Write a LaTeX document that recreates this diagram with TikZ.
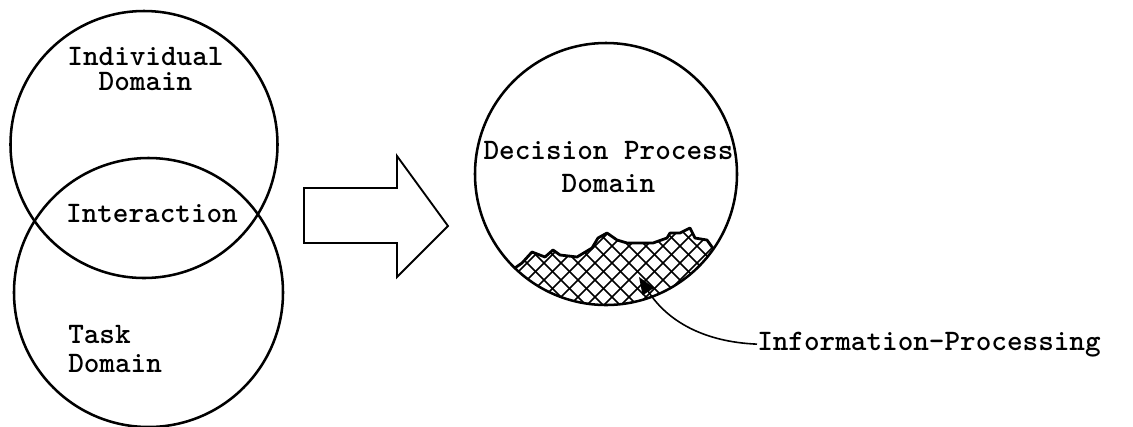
\documentclass[tikz,border=0pt]{standalone}
\usepackage{fontspec}
\usetikzlibrary{arrows.meta}
\tikzset{
  dombox/.style={circle, draw, line width=1.9pt, inner sep=0pt},
  lbl/.style={font=\ttfamily\bfseries\fontsize{22.3}{20}\selectfont, inner sep=0pt},
  blockarrow/.style={draw, line width=1.4pt, line join=miter},
  hatchline/.style={line width=1.3pt},
  jagged/.style={line width=2.1pt, line join=round},
  leader/.style={line width=1.2pt, arrows={Triangle[length=13pt,width=10pt]-}}
}
\begin{document}
\begin{tikzpicture}[x=0.75pt,y=-0.75pt]
\useasboundingbox (0,0) rectangle (1133,426);
% left Venn circles
\node[dombox, minimum size=200.25pt] (ind) at (144,144.5) {};
\node[dombox, minimum size=201.75pt] (task) at (148.5,292.5) {};
\node[lbl, align=center, font=\ttfamily\bfseries\fontsize{22.3}{18.75}\selectfont] (indt) at (145.5,69) {Individual\\Domain};
\node[lbl, anchor=base] (inter) at (152,222) {Interaction};
\node[lbl, align=left, anchor=north west, font=\ttfamily\bfseries\fontsize{22.3}{21.75}\selectfont] (taskt) at (68,325) {Task\\Domain};
% block arrow
\draw[blockarrow] (304,188) -- (397,188) -- (397,156) -- (448,226) -- (397,277) -- (397,243) -- (304,243) -- cycle;
% right circle with hatched region
\begin{scope}
  \clip (606,174) circle[radius=98.25pt];
  \begin{scope}
    \clip (512,270) -- (522,263) -- (532,252) -- (545,257) -- (553,250) -- (560,255) -- (577,257)
      -- (592,248) -- (598,238) -- (607,233) -- (617,240) -- (627,243) -- (637,243) -- (653,243)
      -- (667,238) -- (670,233) -- (680,233) -- (690,228) -- (695,238) -- (707,240) -- (712,247)
      -- (718,254) -- (730,330) -- (500,330) -- cycle;
    \foreach \k in {-340,-323,...,340} {
      \draw[hatchline] (600+\k,200) -- ++(160,160);
      \draw[hatchline] (600+\k,360) -- ++(160,-160);
    }
  \end{scope}
  \draw[jagged] (512,270) -- (522,263) -- (532,252) -- (545,257) -- (553,250) -- (560,255) -- (577,257)
      -- (592,248) -- (598,238) -- (607,233) -- (617,240) -- (627,243) -- (637,243) -- (653,243)
      -- (667,238) -- (670,233) -- (680,233) -- (690,228) -- (695,238) -- (707,240) -- (712,247)
      -- (718,254);
\end{scope}
\node[dombox, minimum size=196.5pt] (dec) at (606,174) {};
\node[lbl, align=center, font=\ttfamily\bfseries\fontsize{22.3}{24.75}\selectfont] (dect) at (608.5,167) {Decision Process\\Domain};
% leader
\coordinate (tip) at (639,277);
\node[lbl, anchor=base west] (info) at (757,350) {Information-Processing};
\draw[leader] (tip) .. controls (668,322) and (705,342) .. (info.west);
\end{tikzpicture}
\end{document}
